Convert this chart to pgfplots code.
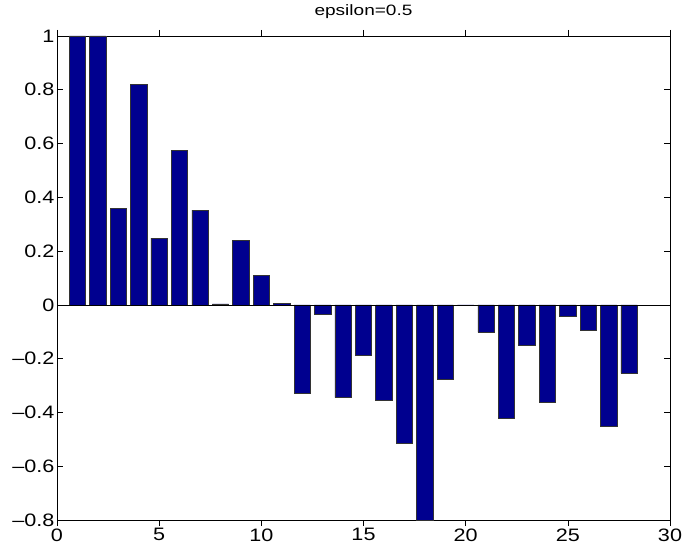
\documentclass[border=0pt]{standalone}
\usepackage{fontspec}
\setmainfont{Liberation Sans}
\newfontfamily\tickfont{Liberation Sans}[FakeStretch=1.2]
\newfontfamily\titlefont{Liberation Sans}[FakeStretch=1.27]
\usepackage{pgfplots}
\pgfplotsset{compat=1.18}
\definecolor{barblue}{RGB}{0,0,143}

\pgfplotstableread{
x y
1 1.000
2 1.000
3 0.359
4 0.820
5 0.248
6 0.575
7 0.352
8 0.004
9 0.240
10 0.109
11 0.006
12 -0.330
13 -0.036
14 -0.345
15 -0.186
16 -0.356
17 -0.514
18 -0.800
19 -0.275
20 -0.003
21 -0.102
22 -0.421
23 -0.150
24 -0.364
25 -0.043
26 -0.096
27 -0.451
28 -0.255
}\coefs

\begin{document}
\begin{tikzpicture}
\path[use as bounding box] (-57pt,-33pt) rectangle (627pt,520pt);
\begin{axis}[
  at={(0pt,0pt)}, anchor=south west,
  scale only axis, width=613pt, height=484pt,
  xmin=0, xmax=30, ymin=-0.8, ymax=1,
  xtick={0,5,10,15,20,25,30},
  ytick={-0.8,-0.6,-0.4,-0.2,0,0.2,0.4,0.6,0.8,1},
  yticklabels={\textendash0.8,\textendash0.6,\textendash0.4,\textendash0.2,0,0.2,0.4,0.6,0.8,1},
  /pgf/number format/assume math mode=true,
  tick align=inside, major tick length=6pt,
  tick style={black, line width=0.6pt},
  axis line style={line width=0.8pt},
  ticklabel style={font=\tickfont\fontsize{18}{21}\selectfont},
  yticklabel style={xshift=1pt},
  xticklabel style={yshift=1pt},
  title={epsilon=0.5},
  title style={font=\titlefont\fontsize{15}{18}\selectfont, at={(0.5,1)}, anchor=base, yshift=14pt},
  ybar, bar width=0.8,
]
\addplot[ybar, fill=barblue, draw=black!80, line width=0.6pt] table[x=x, y=y] {\coefs};
\addplot[sharp plot, black, line width=0.6pt] coordinates {(0,0) (30,0)};
\end{axis}
\end{tikzpicture}
\end{document}
